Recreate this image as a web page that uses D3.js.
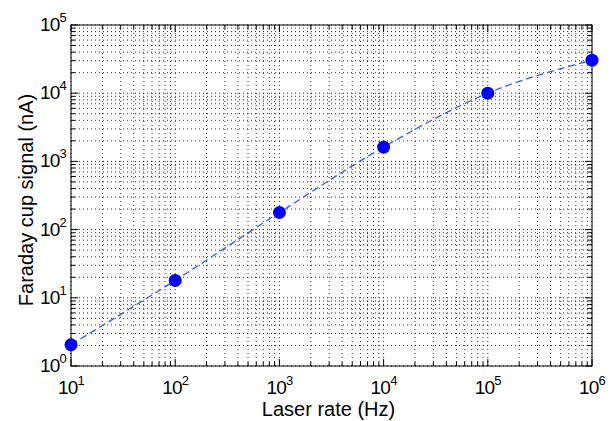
<!DOCTYPE html>
<html>
<head>
<meta charset="utf-8">
<script src="https://cdn.jsdelivr.net/npm/d3@7"></script>
<style>
  body { margin: 0; background: #fff; }
  text { font-family: "Liberation Sans", Arial, sans-serif; fill: #000; }
</style>
</head>
<body>
<svg id="chart" width="613" height="421"></svg>
<script>
// data
const laserRate = [1e1, 1e2, 1e3, 1e4, 1e5, 1e6];
const cupSignal = [2.05, 18, 178, 1620, 10000, 30500];
const xTickExps = [1, 2, 3, 4, 5, 6];
const yTickExps = [0, 1, 2, 3, 4, 5];

const svg = d3.select("#chart");
const margin = {top: 25, right: 21, bottom: 55, left: 71};
const width = +svg.attr("width") - margin.left - margin.right;
const height = +svg.attr("height") - margin.top - margin.bottom;
const g = svg.append("g").attr("transform", "translate(" + margin.left + "," + margin.top + ")");

const x = d3.scaleLog().domain([1e1, 1e6]).range([0, width]);
const y = d3.scaleLog().domain([1e0, 1e5]).range([height, 0]);

// all log ticks, majors + minors
const logTicks = (lo, hi) => {
    const out = [];
    for (let e = lo; e < hi; e++) {
        for (let m = 1; m < 10; m++) out.push(m * Math.pow(10, e));
    }
    out.push(Math.pow(10, hi));
    return out;
};
const xAll = logTicks(1, 6);
const yAll = logTicks(0, 5);

// grid
g.append("g").selectAll("line").data(xAll).join("line")
    .attr("x1", d => x(d)).attr("x2", d => x(d))
    .attr("y1", 0).attr("y2", height)
    .attr("stroke", "#000").attr("stroke-width", 1)
    .attr("stroke-dasharray", "1,3").attr("opacity", 0.8);
g.append("g").selectAll("line").data(yAll).join("line")
    .attr("y1", d => y(d)).attr("y2", d => y(d))
    .attr("x1", 0).attr("x2", width)
    .attr("stroke", "#000").attr("stroke-width", 1)
    .attr("stroke-dasharray", "1,3").attr("opacity", 0.8);

// inward ticks on all four sides
const isMajor = d => Math.abs(Math.log10(d) - Math.round(Math.log10(d))) < 1e-9;
const tickLen = d => isMajor(d) ? 7 : 4;
const ticks = g.append("g").attr("stroke", "#000").attr("stroke-width", 1);
xAll.forEach(d => {
    ticks.append("line").attr("x1", x(d)).attr("x2", x(d)).attr("y1", height).attr("y2", height - tickLen(d));
    ticks.append("line").attr("x1", x(d)).attr("x2", x(d)).attr("y1", 0).attr("y2", tickLen(d));
});
yAll.forEach(d => {
    ticks.append("line").attr("y1", y(d)).attr("y2", y(d)).attr("x1", 0).attr("x2", tickLen(d));
    ticks.append("line").attr("y1", y(d)).attr("y2", y(d)).attr("x1", width).attr("x2", width - tickLen(d));
});

g.append("rect")
    .attr("width", width).attr("height", height)
    .attr("fill", "none").attr("stroke", "#000").attr("stroke-width", 1);

// tick labels 10^n
const xLab = g.append("g").selectAll("text").data(xTickExps).join("text")
    .attr("x", d => x(Math.pow(10, d)))
    .attr("y", height + 28)
    .attr("text-anchor", "middle")
    .attr("font-size", 19)
    .attr("letter-spacing", -0.8);
xLab.append("tspan").text("10");
xLab.append("tspan").attr("dy", -9).attr("font-size", 13).text(d => d);

const yLab = g.append("g").selectAll("text").data(yTickExps).join("text")
    .attr("x", -5)
    .attr("y", d => y(Math.pow(10, d)) + 6)
    .attr("text-anchor", "end")
    .attr("font-size", 19)
    .attr("letter-spacing", -0.8);
yLab.append("tspan").text("10");
yLab.append("tspan").attr("dy", -9).attr("font-size", 13).text(d => d);

// series
const pts = laserRate.map((r, i) => [r, cupSignal[i]]);
const line = d3.line()
    .x(d => x(d[0]))
    .y(d => y(d[1]))
    .curve(d3.curveMonotoneX);

g.append("path")
    .datum(pts)
    .attr("fill", "none")
    .attr("stroke", "#3355ff")
    .attr("stroke-width", 1.3)
    .attr("stroke-dasharray", "7,4")
    .attr("d", line);

g.append("g").selectAll("circle").data(pts).join("circle")
    .attr("cx", d => x(d[0]))
    .attr("cy", d => y(d[1]))
    .attr("r", 6.5)
    .attr("fill", "#0000ff");

// axis titles
svg.append("text")
    .attr("x", margin.left + width / 2 - 3)
    .attr("y", 416)
    .attr("text-anchor", "middle")
    .attr("font-size", 20)
    .text("Laser rate (Hz)");

svg.append("text")
    .attr("transform", "translate(33,200) rotate(-90)")
    .attr("text-anchor", "middle")
    .attr("font-size", 20)
    .text("Faraday cup signal (nA)");
</script>
</body>
</html>
